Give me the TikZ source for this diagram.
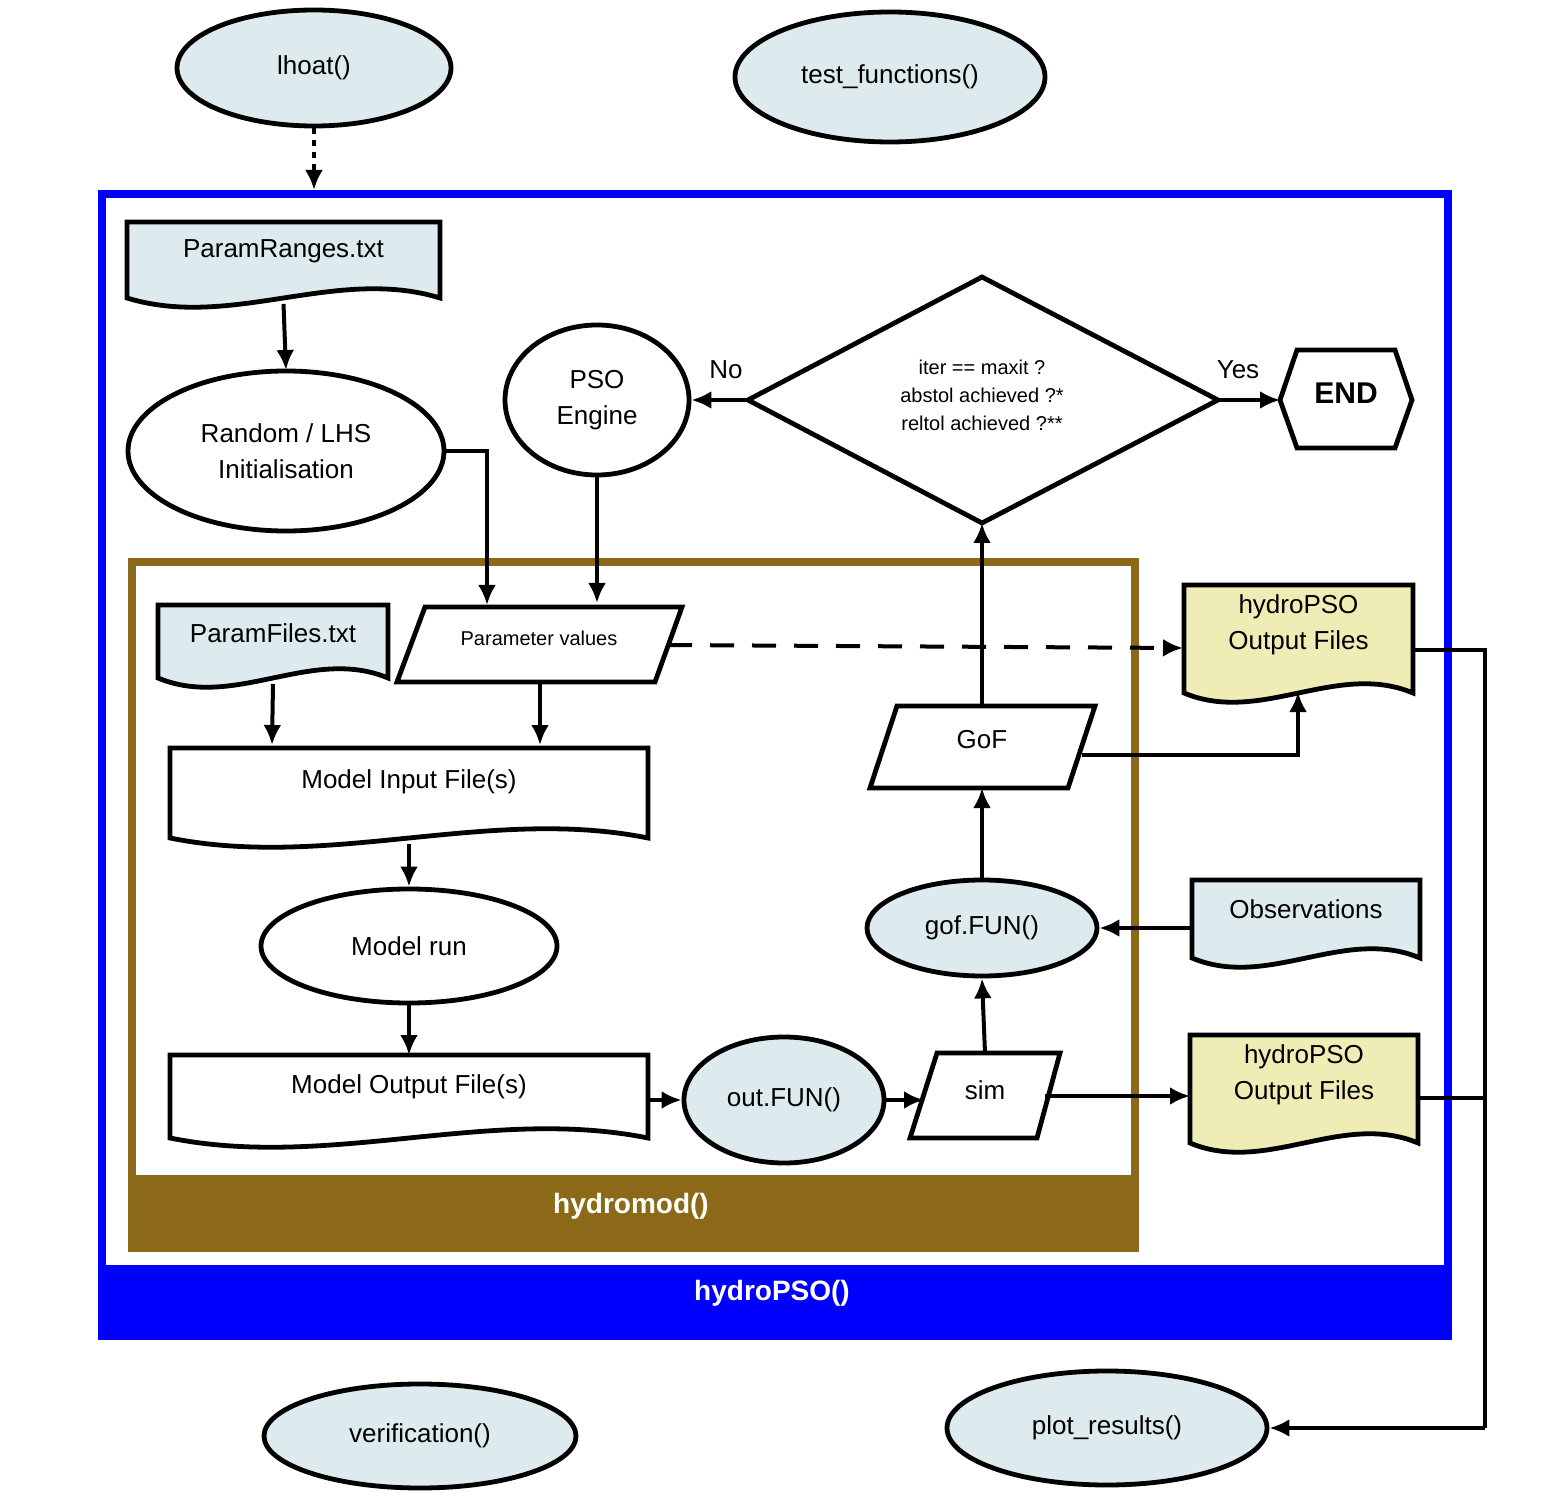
\documentclass[tikz,border=0pt]{standalone}
\usepackage{fontspec}
\setmainfont{Liberation Sans}
\usetikzlibrary{arrows.meta,shapes.geometric}
\definecolor{lb}{HTML}{DDEBEF}
\definecolor{yl}{HTML}{EFEDB5}
\definecolor{br}{HTML}{8C6918}
\definecolor{bl}{HTML}{0000FF}
\tikzset{
 ln/.style={line width=2.4pt,draw=black},
 arr/.style={line width=2pt,-{Latex[length=10pt,width=9pt]}},
 ell/.style={ellipse,ln,inner sep=0pt},
 lbl/.style={font=\fontsize{13}{16}\selectfont,align=center},
 sml/.style={font=\fontsize{10}{14}\selectfont,align=center},
}
\newcommand\docnode[7]{%
 \path[ln,fill=#6] (#2,#3) -- (#4,#3) -- (#4,{#5-12}) .. controls ({#4-(#4-#2)/3},{#5-44}) and ({#2+(#4-#2)/3},{#5+20}) .. (#2,{#5-12}) -- cycle;
 \node[lbl,inner sep=0pt] (#1) at ({(#2+#4)/2},{#3+0.33*(#5-#3)}) {#7};
 \coordinate (#1b) at ({(#2+#4)/2},{#5-6});
 \coordinate (#1t) at ({(#2+#4)/2},#3);
}
\begin{document}
\begin{tikzpicture}[x=0.5pt,y=-0.5pt]
\useasboundingbox (0,0) rectangle (1554,1508);
% frames
\draw[bl,line width=4pt,fill=white] (102,194) rectangle (1448,1336);
\fill[bl] (100,1265) rectangle (1450,1338);
\node[font=\bfseries\fontsize{14}{16}\selectfont,text=white] (hp) at (772,1293) {hydroPSO()};
\draw[br,line width=4pt] (132,562) rectangle (1135,1248);
\fill[br] (130,1175) rectangle (1137,1250);
\node[font=\bfseries\fontsize{14}{16}\selectfont,text=white] (hm) at (631,1206) {hydromod()};
% ellipses
\node[ell,fill=lb,minimum width=137pt,minimum height=58pt,lbl] (lh) at (314,68) {lhoat()};
\node[ell,fill=lb,minimum width=155pt,minimum height=65pt,lbl] (tf) at (890,77) {test\_functions()};
\node[ell,fill=lb,minimum width=156pt,minimum height=52pt,lbl] (ver) at (420,1436) {verification()};
\node[ell,fill=lb,minimum width=160pt,minimum height=57pt,lbl] (pr) at (1107,1428) {plot\_results()};
\node[ell,fill=white,minimum width=158pt,minimum height=80pt,lbl] (rnd) at (286,451) {Random / LHS\\[2pt]Initialisation};
\node[ell,fill=white,minimum width=92pt,minimum height=75pt,lbl] (pso) at (597,400) {PSO\\[2pt]Engine};
\node[ell,fill=white,minimum width=148pt,minimum height=57pt,lbl] (mr) at (409,946) {Model run};
\node[ell,fill=lb,minimum width=100pt,minimum height=63pt,lbl] (of) at (784,1100) {out.FUN()};
\node[ell,fill=lb,minimum width=115pt,minimum height=48pt,lbl] (gf) at (982,928) {gof.FUN()};
% dotted
\coordinate (fr) at (314,190);
\draw[line width=2pt,dash pattern=on 3pt off 3pt,-{Latex[length=10pt,width=9pt]}] (lh.south) -- (fr);
% documents
\docnode{prg}{127}{222}{440}{310}{lb}{ParamRanges.txt}
\docnode{pfl}{158}{605}{388}{690}{lb}{ParamFiles.txt}
\docnode{mif}{170}{748}{648}{850}{white}{Model Input File(s)}
\docnode{mof}{170}{1055}{648}{1150}{white}{Model Output File(s)}
\docnode{ob}{1192}{880}{1420}{970}{lb}{Observations}
\docnode{o1}{1184}{585}{1413}{705}{yl}{hydroPSO\\[2pt]Output Files}
\docnode{o2}{1190}{1035}{1418}{1155}{yl}{hydroPSO\\[2pt]Output Files}
\coordinate (obl) at (1192,928);
\coordinate (o2l) at (1190,1096);
\coordinate (mofr) at (648,1100);
% diamond
\path[ln,fill=white] (748,400) -- (982,277) -- (1218,400) -- (982,523) -- cycle;
\node[sml] (dm) at (982,395) {iter == maxit ?\\abstol achieved ?*\\reltol achieved ?**};
\coordinate (dmL) at (748,400); \coordinate (dmR) at (1218,400); \coordinate (dmB) at (982,523);
% END
\path[ln,fill=white] (1297,350) -- (1395,350) -- (1412,400) -- (1395,448) -- (1297,448) -- (1280,400) -- cycle;
\node[font=\bfseries\fontsize{15}{16}\selectfont] (end) at (1346,393) {END};
\coordinate (endL) at (1280,400);
% parallelograms
\path[ln,fill=white] (425,607) -- (682,607) -- (655,682) -- (397,682) -- cycle;
\node[sml] (pv) at (539,638) {Parameter values};
\path[ln,fill=white] (897,706) -- (1095,706) -- (1068,788) -- (870,788) -- cycle;
\node[lbl] (gof) at (982,740) {GoF};
\path[ln,fill=white] (937,1053) -- (1060,1053) -- (1037,1138) -- (910,1138) -- cycle;
\node[lbl] (sim) at (985,1090) {sim};
% arrows
\draw[arr] (prgb) -- (286,370);
\draw[arr] (rnd.east) -- (487,451) -- (487,605);
\draw[arr] (pso.south) -- (597,603);
\draw[arr] (dmL) -- (pso.east);
\node[lbl] (no) at (726,370) {No};
\draw[arr] (dmR) -- (endL);
\node[lbl] (yes) at (1238,370) {Yes};
\draw[arr] (pflb) -- (272,745);
\draw[arr] (540,682) -- (540,745);
\draw[arr] (mifb) -- (mr.north);
\draw[arr] (mr.south) -- (moft);
\draw[arr] (mofr) -- (of.west);
\draw[arr] (of.east) -- (924,1100);
\draw[arr] (1045,1096) -- (o2l);
\draw[arr] (985,1053) -- (gf.south);
\draw[arr] (obl) -- (gf.east);
\draw[arr] (gf.north) -- (982,788);
\draw[arr] (982,706) -- (dmB);
\draw[arr] (1082,755) -- (1298,755) -- (1298,692);
\draw[arr,dash pattern=on 12pt off 9pt] (668,645) -- (1183,648);
\draw[line width=2pt] (1413,650) -- (1485,650) -- (1485,1428);
\draw[line width=2pt] (1418,1098) -- (1485,1098);
\draw[arr] (1485,1428) -- (pr.east);
\end{tikzpicture}
\end{document}
